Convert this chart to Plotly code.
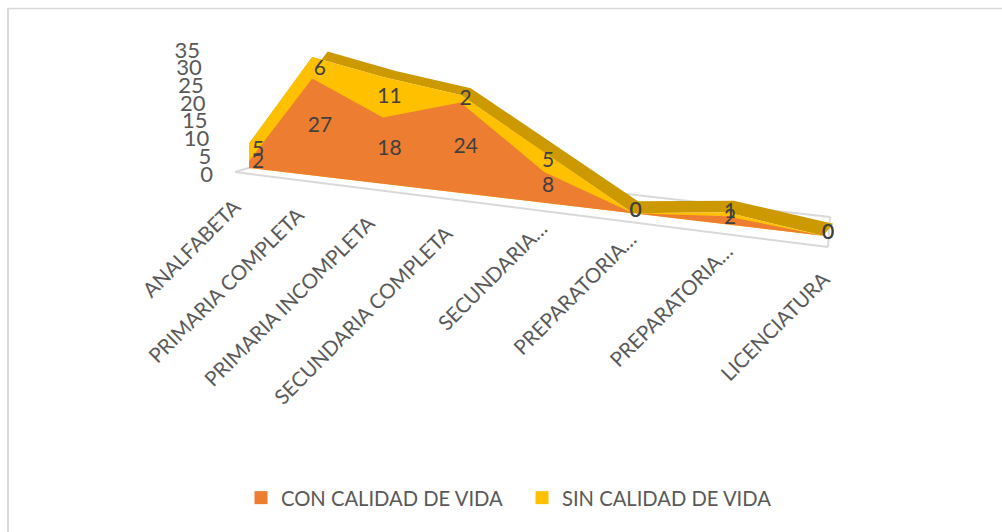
import plotly.graph_objects as go

# ---- data ----
categories = ["ANALFABETA", "PRIMARIA COMPLETA", "PRIMARIA INCOMPLETA", "SECUNDARIA COMPLETA",
              "SECUNDARIA…", "PREPARATORIA…", "PREPARATORIA…", "LICENCIATURA"]
con_calidad = [2, 27, 18, 24, 8, 0, 2, 0]
sin_calidad = [5, 6, 11, 2, 5, 0, 1, 0]
value_ticks = [0, 5, 10, 15, 20, 25, 30, 35]
series_names = ["CON CALIDAD DE VIDA", "SIN CALIDAD DE VIDA"]

ORANGE, YELLOW, DARK = "#ED7D31", "#FFC000", "#CC9A00"
FLOOR = "#D9D9D9"
FONT = "Lato"


# ---- projection of the chart's 3D box onto the page plane ----
def px_x(c):
    return 249 + 67 * c + 3.267 * c * (c - 2) - 0.1333 * c * (c - 2) * (c - 5)


def project(c, v, depth=0.0):
    """category index, stacked value, depth (0 front .. 1 back) -> plane position"""
    x = px_x(c)
    base = 168 + 0.118 * (x - 249)
    y = base - v * (3.5 + 0.09 * c)
    dx = 5 + 2.6 * abs(c - 5)
    dy = 12 - 0.2 * v
    return x + dx * depth, y - dy * depth


def polygon(points):
    xs, ys = zip(*points)
    return list(xs) + [xs[0]], list(ys) + [ys[0]]


n = len(categories)
idx = list(range(n))
stack = [a + b for a, b in zip(con_calidad, sin_calidad)]

fig = go.Figure()

# floor outline
floor_lines = [((235, 172), (828, 247)), ((828, 247), (830, 217)), ((830, 217), (600, 191)), ((235, 172), (252, 167))]
shapes = [dict(type="line", xref="x", yref="y", x0=a[0], y0=a[1], x1=b[0], y1=b[1],
               line=dict(color=FLOOR, width=2), layer="below") for a, b in floor_lines]
# chart frame: only its left and top edges are in view
shapes.append(dict(type="line", xref="x", yref="y", x0=8, y0=8.5, x1=8, y1=532,
                   line=dict(color=FLOOR, width=2), layer="below"))
shapes.append(dict(type="line", xref="x", yref="y", x0=7, y0=8.5, x1=1002, y1=8.5,
                   line=dict(color=FLOOR, width=1.5), layer="below"))

# top face of the stack
top_front = [project(i, stack[i]) for i in idx]
top_back = [project(i, stack[i], 1) for i in idx]
xs, ys = polygon(top_front + top_back[::-1])
fig.add_trace(go.Scatter(x=xs, y=ys, mode="lines", fill="toself", fillcolor=DARK, line=dict(width=0),
                         hoverinfo="skip", showlegend=False))

# front faces
xs, ys = polygon([project(0, 0)] + top_front + [project(n - 1, 0)])
fig.add_trace(go.Scatter(x=xs, y=ys, mode="lines", fill="toself", fillcolor=YELLOW, line=dict(width=0),
                         hoverinfo="skip", showlegend=False))
xs, ys = polygon([project(0, 0)] + [project(i, con_calidad[i]) for i in idx] + [project(n - 1, 0)])
fig.add_trace(go.Scatter(x=xs, y=ys, mode="lines", fill="toself", fillcolor=ORANGE, line=dict(width=0),
                         hoverinfo="skip", showlegend=False))


# data labels
def label_pos(c, v):
    x, y = project(c, v, 0.5)
    return x, y + 4.5


con_pos = [label_pos(i, con_calidad[i] / 2) for i in idx]
sin_pos = [label_pos(i, con_calidad[i] + sin_calidad[i] / 2) for i in idx]
for pos, vals in ((sin_pos, sin_calidad), (con_pos, con_calidad)):
    fig.add_trace(go.Scatter(x=[p[0] for p in pos], y=[p[1] for p in pos], mode="text",
                             text=[str(v) for v in vals], textposition="middle center",
                             textfont=dict(family=FONT, size=21, color="#404040"),
                             hoverinfo="skip", showlegend=False))

# value axis labels
fig.add_trace(go.Scatter(x=[213 - 0.37 * v for v in value_ticks],
                         y=[176 - 3.54 * v for v in value_ticks],
                         mode="text", text=[str(v) for v in value_ticks], textposition="middle left",
                         textfont=dict(family=FONT, size=22, color="#595959"),
                         hoverinfo="skip", showlegend=False))

# category labels
trunc = [c.endswith("…") for c in categories]
annotations = []
for i, c in enumerate(categories):
    x0, _ = project(i, 0)
    front = 172 + 0.1265 * (x0 - 235)
    last = i == n - 1
    annotations.append(dict(xref="x", yref="y", x=x0 + (12 if i >= 6 else 9 if trunc[i] else -3),
                            y=front + (19 if last else 3 if trunc[i] else 19),
                            text=c, showarrow=False, textangle=-45, xanchor="right", yanchor="top",
                            borderpad=0, font=dict(family=FONT, size=20.5, color="#595959")))

# legend entries
for name, col in zip(series_names, (ORANGE, YELLOW)):
    fig.add_trace(go.Scatter(x=[None], y=[None], mode="markers", name=name,
                             marker=dict(symbol="square", size=13, color=col)))

fig.update_layout(
    width=1002, height=532, margin=dict(l=0, r=0, t=0, b=0),
    paper_bgcolor="white", plot_bgcolor="white",
    xaxis=dict(range=[0, 1002], visible=False, fixedrange=True),
    yaxis=dict(range=[532, 0], visible=False, fixedrange=True),
    shapes=shapes, annotations=annotations,
    legend=dict(orientation="h", x=241 / 1002, xanchor="left", y=1 - 498 / 532, yanchor="middle",
                entrywidth=236, entrywidthmode="pixels",
                font=dict(family=FONT, size=20.2, color="#595959"), itemwidth=30,
                bgcolor="rgba(0,0,0,0)"),
)
fig.write_html("out.html", config=dict(displayModeBar=False),
               post_script="document.body.style.margin='0';document.body.style.overflow='hidden';")
